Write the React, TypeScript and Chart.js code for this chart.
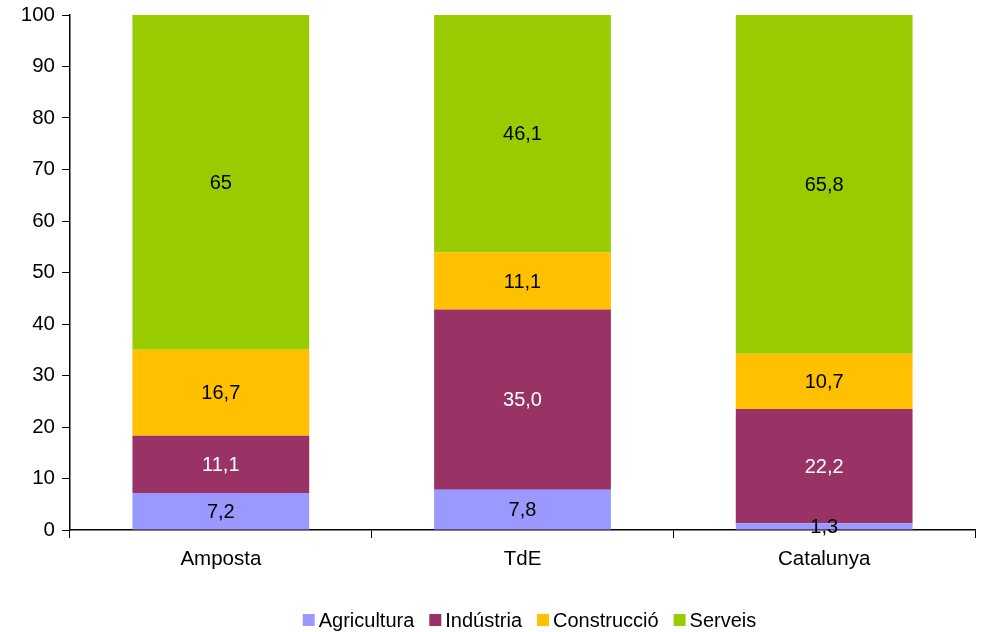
import React, { useEffect, useRef } from "react";
import { Chart, registerables } from "chart.js";

Chart.register(...registerables);

const categories = ["Amposta", "TdE", "Catalunya"];
const seriesNames = ["Agricultura", "Indústria", "Construcció", "Serveis"];
const agricultura = [7.2, 7.8, 1.3];
const industria = [11.1, 35.0, 22.2];
const construccio = [16.7, 11.1, 10.7];
const serveis = [65, 46.1, 65.8];
const agriculturaLabels = ["7,2", "7,8", "1,3"];
const industriaLabels = ["11,1", "35,0", "22,2"];
const construccioLabels = ["16,7", "11,1", "10,7"];
const serveisLabels = ["65", "46,1", "65,8"];
const colors = ["#9999FF", "#993366", "#FFC000", "#99CC00"];
const labelColors = ["#000000", "#FFFFFF", "#000000", "#000000"];
const yTicks = [0, 10, 20, 30, 40, 50, 60, 70, 80, 90, 100];

const FONT = "Arial, 'Liberation Sans', sans-serif";

const valueLabelPlugin = {
  id: "valueLabels",
  afterDatasetsDraw(chart: any) {
    const ctx = chart.ctx;
    ctx.save();
    ctx.font = `20px ${FONT}`;
    ctx.textAlign = "center";
    ctx.textBaseline = "middle";
    chart.data.datasets.forEach((ds: any, di: number) => {
      const meta = chart.getDatasetMeta(di);
      meta.data.forEach((bar: any, i: number) => {
        const { x, y, base } = bar.getProps(["x", "y", "base"], true);
        ctx.fillStyle = ds.labelColor;
        ctx.fillText(ds.valueLabels[i], x, (y + base) / 2 + 1);
      });
    });
    ctx.restore();
  },
};

const legendPlugin = {
  id: "customLegend",
  afterDraw(chart: any) {
    const ctx = chart.ctx;
    ctx.save();
    ctx.font = `20px ${FONT}`;
    ctx.textBaseline = "middle";
    ctx.textAlign = "left";
    const box = 12;
    const gapBox = 4;
    const gapItem = 15;
    const items = chart.data.datasets.map((ds: any) => ({
      label: ds.label,
      color: ds.backgroundColor,
      w: box + gapBox + ctx.measureText(ds.label).width,
    }));
    const total = items.reduce((s: number, it: any) => s + it.w, 0) + gapItem * (items.length - 1);
    const ca = chart.chartArea;
    let x = (ca.left + ca.right) / 2 + 7 - total / 2;
    const y = ca.bottom + 90;
    items.forEach((it: any) => {
      ctx.fillStyle = it.color;
      ctx.fillRect(x, y - box / 2, box, box);
      ctx.fillStyle = "#000";
      ctx.fillText(it.label, x + box + gapBox, y + 1);
      x += it.w + gapItem;
    });
    ctx.restore();
  },
};

export default function App() {
  const ref = useRef<HTMLCanvasElement>(null);
  useEffect(() => {
    document.body.style.margin = "0";
    const data = [agricultura, industria, construccio, serveis];
    const labels = [agriculturaLabels, industriaLabels, construccioLabels, serveisLabels];
    const chart = new Chart(ref.current!, {
      type: "bar",
      data: {
        labels: categories,
        datasets: seriesNames.map((name, i) => ({
          label: name,
          data: data[i],
          backgroundColor: colors[i],
          borderWidth: 0,
          barPercentage: 0.586,
          categoryPercentage: 1,
          valueLabels: labels[i],
          labelColor: labelColors[i],
        })) as any,
      },
      options: {
        animation: false,
        responsive: false,
        maintainAspectRatio: false,
        layout: { padding: { top: 15, right: 11, left: 0, bottom: 32 } },
        plugins: {
          tooltip: { enabled: false },
          legend: { display: false },
        },
        scales: {
          x: {
            stacked: true,
            grid: { drawOnChartArea: false, drawTicks: true, tickLength: 8, color: "#000", offset: true },
            border: { display: true, color: "#000", width: 1.5 },
            ticks: { color: "#000", font: { size: 20.5, family: FONT }, padding: 9 },
            afterFit(scale: any) {
              scale.height = 70;
              scale.paddingLeft = 0;
              scale.paddingRight = 0;
            },
          },
          y: {
            stacked: true,
            min: 0,
            max: 100,
            afterBuildTicks(scale: any) {
              scale.ticks = yTicks.map((v) => ({ value: v }));
            },
            grid: { drawOnChartArea: false, drawTicks: true, tickLength: 8, color: "#000" },
            border: { display: true, color: "#000", width: 1.5 },
            ticks: { color: "#000", font: { size: 20.5, family: FONT }, padding: 7 },
            afterFit(scale: any) {
              scale.width = 70;
              scale.paddingTop = 0;
              scale.paddingBottom = 0;
            },
          },
        },
      },
      plugins: [valueLabelPlugin, legendPlugin],
    });
    return () => chart.destroy();
  }, []);
  return (
    <div style={{ width: 986, height: 632 }}>
      <canvas ref={ref} width={986} height={632} style={{ width: 986, height: 632, display: "block" }} />
    </div>
  );
}
